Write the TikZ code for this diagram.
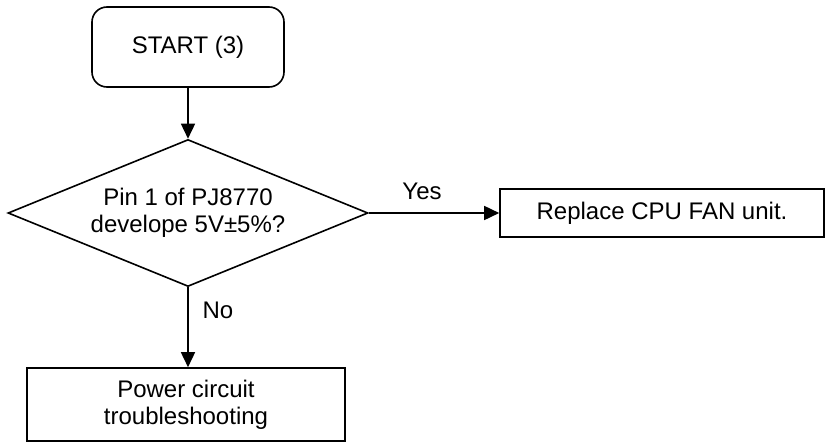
\documentclass[tikz,border=0pt]{standalone}
\usepackage{fontspec}
\setmainfont{Liberation Sans}
\usetikzlibrary{shapes.geometric,arrows.meta}
\begin{document}
\begin{tikzpicture}[x=1pt,y=-1pt,
  every node/.style={font=\fontsize{24}{27}\selectfont, text=black},
  box/.style={draw,line width=1.6pt,inner sep=0pt,align=center},
  flow/.style={line width=1.6pt,-{Triangle[length=15pt,width=14pt]}},
  ]
\useasboundingbox (0,0) rectangle (826,442);
% process steps
\node[box,rounded corners=15pt,minimum width=192pt,minimum height=80pt] (start) at (188,47) {START (3)};
\node[box,diamond,aspect=2.45,minimum width=360pt,minimum height=147pt] (dec) at (188,213) {Pin 1 of PJ8770\\develope 5V±5\%?};
\node[box,minimum width=324pt,minimum height=48pt] (fan) at (662,213) {Replace CPU FAN unit.};
\node[box,minimum width=318pt,minimum height=73pt] (pwr) at (186,404.5) {Power circuit\\troubleshooting};
% connectors
\draw[flow] (start.south) -- (dec.north);
\draw[flow] (dec.east) -- (fan.west);
\draw[flow] (dec.south) -- (dec.south |- pwr.north);
% branch labels
\node (yes) at (422,191) {Yes};
\node (no) at (218,310) {No};
\end{tikzpicture}
\end{document}
